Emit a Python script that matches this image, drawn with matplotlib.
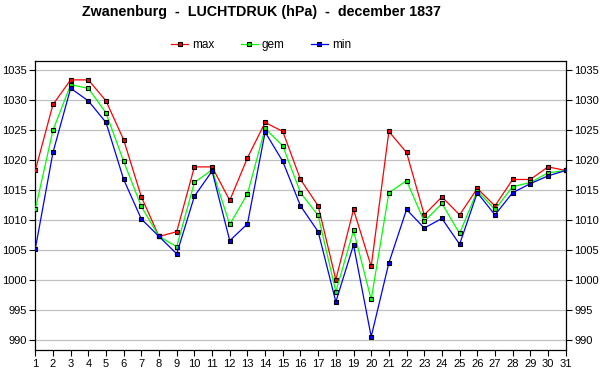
import matplotlib
matplotlib.use("Agg")
import matplotlib.pyplot as plt

plt.rcParams['font.family'] = ['Liberation Sans', 'DejaVu Sans']

days = list(range(1, 32))
p_max = [1018.3, 1029.3, 1033.4, 1033.4, 1029.9, 1023.4, 1013.9, 1007.3, 1008.1, 1018.9,
         1018.9, 1013.3, 1020.4, 1026.3, 1024.8, 1016.8, 1012.4, 1000.1, 1011.8, 1002.3,
         1024.8, 1021.3, 1010.9, 1013.9, 1010.9, 1015.3, 1012.4, 1016.8, 1016.8, 1018.9,
         1018.3]
p_gem = [1011.8, 1025.0, 1032.6, 1032.0, 1027.9, 1019.8, 1012.3, 1007.3, 1005.6, 1016.3,
         1018.4, 1009.3, 1014.4, 1025.3, 1022.4, 1014.6, 1010.8, 998.1, 1008.3, 996.8,
         1014.6, 1016.6, 1009.8, 1012.8, 1007.8, 1014.9, 1011.8, 1015.6, 1016.3, 1017.9,
         1018.3]
p_min = [1005.2, 1021.3, 1032.0, 1029.9, 1026.3, 1016.8, 1010.2, 1007.3, 1004.4, 1014.0,
         1018.2, 1006.6, 1009.4, 1024.7, 1019.8, 1012.4, 1008.1, 996.4, 1005.9, 990.6,
         1002.9, 1011.8, 1008.7, 1010.3, 1006.0, 1014.6, 1010.9, 1014.6, 1016.1, 1017.4,
         1018.3]
yticks = list(range(990, 1040, 5))

fig = plt.figure(figsize=(6, 3.9), dpi=100)
ax = fig.add_axes([0.0588, 0.1018, 0.884, 0.7426])

series = [(p_max, '#ff0000', 'max'), (p_gem, '#00ff00', 'gem'), (p_min, '#0000ff', 'min')]
for vals, col, lab in series:
    ax.plot(days, vals, color=col, lw=0.9, marker='s', markersize=3.4,
            markerfacecolor=col, markeredgecolor='black', markeredgewidth=0.8,
            label=lab, zorder=3)

ax.set_xlim(1, 31)
ax.set_ylim(988.33, 1036.6)
ax.set_xticks(days)
ax.set_yticks(yticks)
ax.yaxis.grid(True, color='#c0c0c0', lw=0.9)
ax.set_axisbelow(True)
ax.tick_params(axis='both', labelsize=8, length=4, width=0.8, color='black', pad=2)
ax.tick_params(axis='y', right=True, labelright=True)
for s in ax.spines.values():
    s.set_linewidth(0.9)

fig.text(0.435, 0.969, 'Zwanenburg  -  LUCHTDRUK (hPa)  -  december 1837',
         ha='center', va='center', fontsize=10.3, fontweight='bold')
fig.legend(loc='center', bbox_to_anchor=(0.435, 0.885), ncol=3, frameon=False,
           fontsize=8.5, handlelength=1.45, handletextpad=0.35, columnspacing=2.2)

fig.savefig('out.png', dpi=100)
